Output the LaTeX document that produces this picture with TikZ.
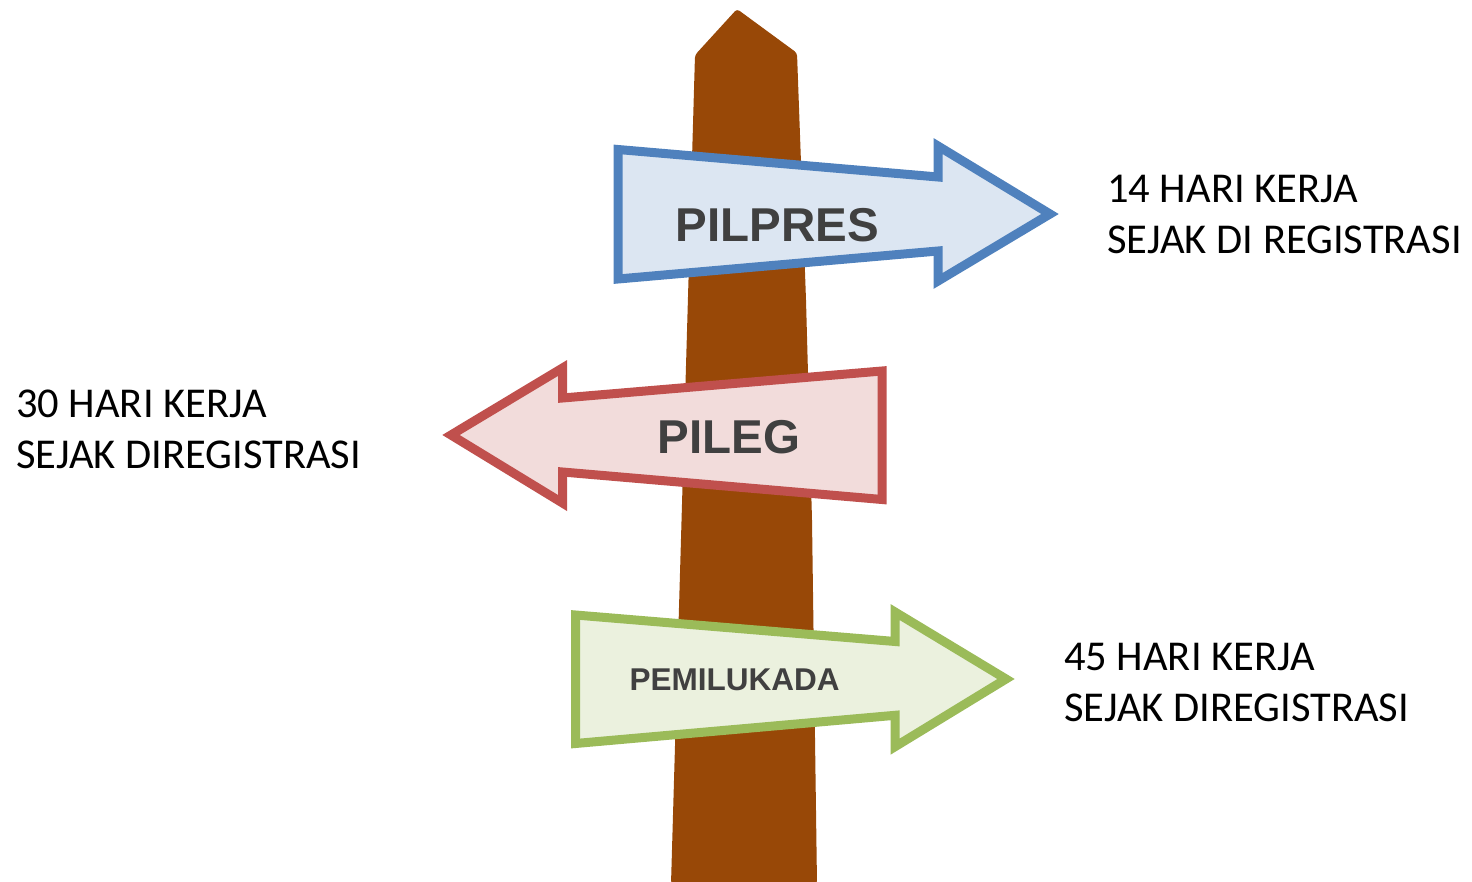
\documentclass[tikz,border=0pt]{standalone}
\usepackage{fontspec}
\setmainfont{Carlito}
\newfontfamily\arialbold{Liberation Sans}[BoldFont=* Bold]
\definecolor{postbrown}{HTML}{984807}
\definecolor{bluestroke}{HTML}{4F81BD}
\definecolor{bluefill}{HTML}{DCE6F2}
\definecolor{redstroke}{HTML}{C0504D}
\definecolor{redfill}{HTML}{F2DCDB}
\definecolor{greenstroke}{HTML}{9BBB59}
\definecolor{greenfill}{HTML}{EBF1DE}
\definecolor{labelgray}{HTML}{404040}
\tikzset{
  signarrow/.style={line width=9pt, miter limit=10, line join=miter},
  signlabel/.style={anchor=base, inner sep=0pt, text=labelgray, font=\arialbold\bfseries\fontsize{#1}{#1}\selectfont},
  sidetext/.style={anchor=base west, inner sep=0pt, text=black, font=\fontsize{42.5}{51}\selectfont}
}
\begin{document}
\begin{tikzpicture}[x=1pt,y=-1pt]
\useasboundingbox (0,0) rectangle (1472,882);
% post
\fill[postbrown, rounded corners=3pt] (671,884) -- (695,55) -- (737,9) -- (797,53) -- (806,300) -- (812,520) -- (817,884) -- cycle;
% PILPRES arrow
\draw[signarrow, draw=bluestroke, fill=bluefill] (618,149.5) -- (938,177) -- (938,146) -- (1050,214) -- (938,281) -- (938,251) -- (618,279) -- cycle;
\node[signlabel=47.5] (pilpres) at (777.5,241.7) {PILPRES};
% PILEG arrow
\draw[signarrow, draw=redstroke, fill=redfill] (882,371) -- (882,499.5) -- (562.5,472) -- (562.5,503) -- (451,435) -- (562.5,368) -- (562.5,398) -- cycle;
\node[signlabel=47.5] (pileg) at (728.8,453.3) {PILEG};
% PEMILUKADA arrow
\draw[signarrow, draw=greenstroke, fill=greenfill] (575.5,615) -- (895,641.5) -- (895,612) -- (1006,679) -- (895,746.7) -- (895,715.3) -- (575.5,743.5) -- cycle;
\node[signlabel=31.5] (pemilukada) at (734.7,690.7) {PEMILUKADA};
% side texts
\node[sidetext] (t14) at (1107,202.5) {\begin{tabular}[t]{@{}l@{}}14 HARI KERJA\\SEJAK DI REGISTRASI\end{tabular}};
\node[sidetext] (t30) at (16,417.5) {\begin{tabular}[t]{@{}l@{}}30 HARI KERJA\\SEJAK DIREGISTRASI\end{tabular}};
\node[sidetext] (t45) at (1064,670) {\begin{tabular}[t]{@{}l@{}}45 HARI KERJA\\SEJAK DIREGISTRASI\end{tabular}};
\end{tikzpicture}
\end{document}
